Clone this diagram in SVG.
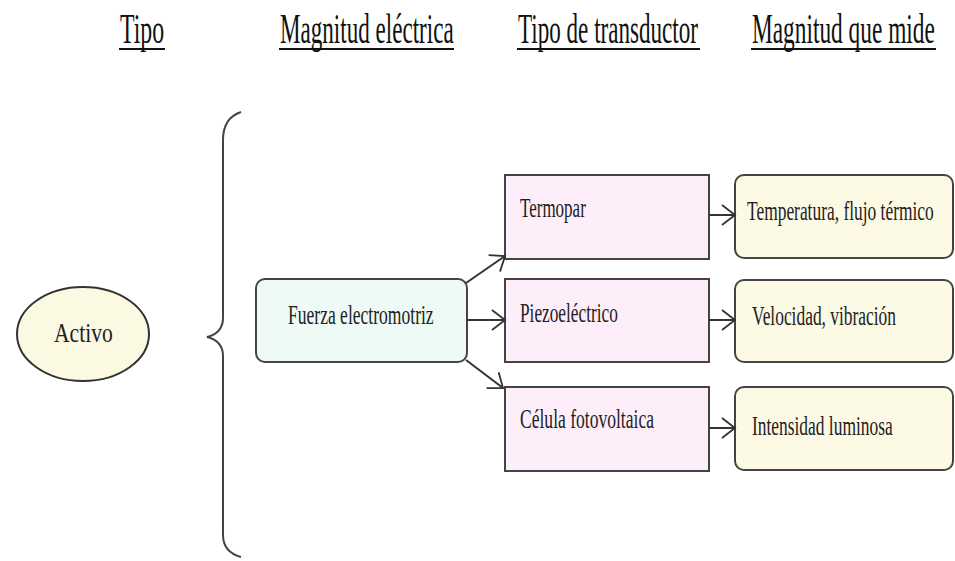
<svg xmlns="http://www.w3.org/2000/svg" width="955" height="561" viewBox="0 0 955 561">
<defs>
<marker id="arr" markerUnits="userSpaceOnUse" markerWidth="22" markerHeight="24" refX="17" refY="12" orient="auto">
<path d="M4,2 L17,12 L4,22" fill="none" stroke="#333" stroke-width="1.8"/>
</marker>
</defs>
<style>
.hdr{font-family:"Liberation Serif",serif;font-size:42px;fill:#111;}
.ul{stroke:#111;stroke-width:2.2;}
.t{font-family:"Liberation Serif",serif;font-size:27px;fill:#222;}
.pink{fill:#fdeefa;stroke:#444;stroke-width:2;}
.yel{fill:#fcf9e4;stroke:#444;stroke-width:2;}
.mint{fill:#eefaf5;stroke:#444;stroke-width:2;}
.conn{stroke:#333;stroke-width:2;fill:none;marker-end:url(#arr);}
</style>
<rect width="955" height="561" fill="#fff"/>
<g id="headers">
<text class="hdr" transform="translate(120,43) scale(0.567,1)">Tipo</text>
<line class="ul" x1="119" y1="49" x2="165" y2="49"/>
<text class="hdr" transform="translate(280,43) scale(0.55,1)">Magnitud eléctrica</text>
<line class="ul" x1="279" y1="49" x2="454" y2="49"/>
<text class="hdr" transform="translate(518,43) scale(0.55,1)">Tipo de transductor</text>
<line class="ul" x1="517" y1="49" x2="700" y2="49"/>
<text class="hdr" transform="translate(752,43) scale(0.556,1)">Magnitud que mide</text>
<line class="ul" x1="751" y1="49" x2="936" y2="49"/>
</g>
<g id="activo">
<ellipse cx="83" cy="334" rx="66" ry="47" fill="#fcf9e2" stroke="#333" stroke-width="2"/>
<text class="t" transform="translate(54,342) scale(0.8,1)">Activo</text>
</g>
<g id="brace">
<path d="M241,112 Q223,118 223,140 L223,318 Q223,333 207,337 Q223,341 223,356 L223,535 Q223,552 241,557" fill="none" stroke="#444" stroke-width="2"/>
</g>
<g id="fuerza">
<rect class="mint" x="256" y="279" width="211" height="83" rx="9"/>
<text class="t" transform="translate(288,324) scale(0.65,1)">Fuerza electromotriz</text>
</g>
<g id="termopar">
<rect class="pink" x="505" y="175" width="204" height="84"/>
<text class="t" transform="translate(520,217) scale(0.63,1)">Termopar</text>
</g>
<g id="piezo">
<rect class="pink" x="505" y="279" width="204" height="83"/>
<text class="t" transform="translate(520,322) scale(0.64,1)">Piezoeléctrico</text>
</g>
<g id="celula">
<rect class="pink" x="505" y="387" width="204" height="84"/>
<text class="t" transform="translate(520,428) scale(0.65,1)">Célula fotovoltaica</text>
</g>
<g id="temperatura">
<rect class="yel" x="735" y="175" width="218" height="83" rx="9"/>
<text class="t" transform="translate(747,220) scale(0.645,1)">Temperatura, flujo térmico</text>
</g>
<g id="velocidad">
<rect class="yel" x="735" y="280" width="218" height="82" rx="9"/>
<text class="t" transform="translate(752,325) scale(0.645,1)">Velocidad, vibración</text>
</g>
<g id="intensidad">
<rect class="yel" x="735" y="387" width="218" height="83" rx="9"/>
<text class="t" transform="translate(752,435) scale(0.645,1)">Intensidad luminosa</text>
</g>
<g id="connectors">
<line class="conn" x1="466" y1="283" x2="505" y2="256"/>
<line class="conn" x1="467" y1="320" x2="505" y2="320"/>
<line class="conn" x1="466" y1="360" x2="503" y2="388"/>
<line class="conn" x1="709" y1="215" x2="735" y2="215"/>
<line class="conn" x1="709" y1="320" x2="735" y2="320"/>
<line class="conn" x1="709" y1="428" x2="735" y2="428"/>
</g>
</svg>
